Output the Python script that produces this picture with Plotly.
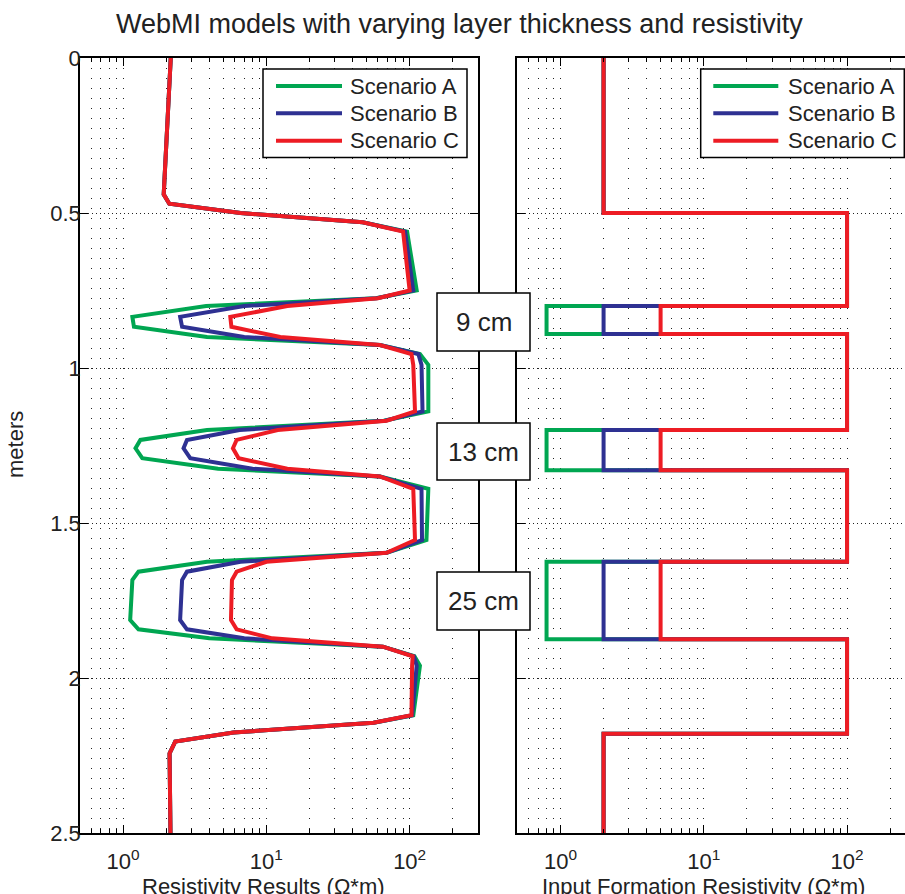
import math
import plotly.graph_objects as go

# ---------------- data ----------------
scenarios = ["Scenario A", "Scenario B", "Scenario C"]
colors = ["rgb(0,166,81)", "rgb(46,49,146)", "rgb(237,28,36)"]

# simulated responses (left panel)
depth_sim = [0.00, 0.44, 0.47, 0.50, 0.53, 0.56, 0.75, 0.775, 0.80, 0.835, 0.867, 0.90,
             0.926, 0.955, 0.99, 1.14, 1.17, 1.20, 1.232, 1.259, 1.291, 1.325, 1.35, 1.39,
             1.555, 1.596, 1.625, 1.657, 1.684, 1.813, 1.843, 1.872, 1.899, 1.93, 1.96,
             2.12, 2.144, 2.176, 2.205, 2.243, 2.50]
res_A = [2.15, 1.92, 2.1, 6.6, 47, 96, 112, 58, 3.8, 1.16, 1.19, 3.85, 62, 118, 135, 135,
         66, 3.85, 1.32, 1.22, 1.36, 4.6, 62, 135, 131, 69, 3.85, 1.28, 1.16, 1.12, 1.28,
         4.0, 65, 108, 118, 106, 56, 5.9, 2.31, 2.11, 2.14]
res_B = [2.15, 1.92, 2.1, 6.6, 47, 93, 106, 59, 7, 2.5, 2.58, 7, 62, 115, 121, 123,
         67, 6.5, 2.79, 2.64, 2.94, 8, 62, 121, 122, 69, 6.6, 2.79, 2.58, 2.5, 2.79,
         7, 65, 107, 112, 104, 56, 5.9, 2.31, 2.11, 2.14]
res_C = [2.15, 1.92, 2.1, 6.6, 47, 90, 100, 60, 14, 5.6, 5.7, 12.5, 62, 103, 106, 109,
         69, 12, 6.2, 5.84, 6.4, 14, 62, 106, 109, 69, 10, 6.2, 5.75, 5.66, 6.2,
         11, 65, 105, 104, 103, 56, 5.9, 2.31, 2.11, 2.14]

# input formation model (right panel): layer tops + bottom of model
layer_tops = [0.0, 0.5, 0.8, 0.89, 1.2, 1.33, 1.625, 1.875, 2.18, 2.5]
model_A = [2, 100, 0.8, 100, 0.8, 100, 0.8, 100, 2, 2]
model_B = [2, 100, 2, 100, 2, 100, 2, 100, 2, 2]
model_C = [2, 100, 5, 100, 5, 100, 5, 100, 2, 2]

layer_labels = ["9 cm", "13 cm", "25 cm"]

y_ticks = [0, 0.5, 1, 1.5, 2, 2.5]
y_ticktext = ["0", "0.5", "1", "1.5", "2", "2.5"]
x_major = [1, 10, 100]
x_major_text = ["10<sup>0</sup>", "10<sup>1</sup>", "10<sup>2</sup>"]
x_minor = [0.5, 0.6, 0.7, 0.8, 0.9, 2, 3, 4, 5, 6, 7, 8, 9,
           20, 30, 40, 50, 60, 70, 80, 90, 200, 300]

# ---------------- layout helpers ----------------
W, H = 905, 894
TOP, BOT = 58, 833           # plot area in page pixels
ML, MR = 0, 0
MT, MB = TOP, H - BOT
PW, PH = W - ML - MR, H - MT - MB
px = lambda x: (x - ML) / PW          # page px -> paper x
py = lambda y: (H - MB - y) / PH      # page px -> paper y
FONT = "Liberation Sans, Arial, Helvetica, sans-serif"

fig = go.Figure()

for name, col, vals in zip(scenarios, colors, [res_A, res_B, res_C]):
    fig.add_trace(go.Scatter(x=vals, y=depth_sim, mode="lines", name=name,
                             line=dict(color=col, width=4), showlegend=False,
                             xaxis="x", yaxis="y"))
for name, col, vals in zip(scenarios, colors, [model_A, model_B, model_C]):
    fig.add_trace(go.Scatter(x=vals, y=layer_tops, mode="lines", name=name,
                             line=dict(color=col, width=4, shape="vh"), showlegend=False,
                             xaxis="x2", yaxis="y2"))

def xaxis(domain, rng):
    return dict(type="log", domain=domain, range=rng, tickmode="array",
                tickvals=x_major, ticktext=x_major_text, ticks="inside", ticklen=8,
                tickwidth=1, tickcolor="black", showline=True, linecolor="black",
                linewidth=1.5, mirror="ticks", showgrid=True, gridcolor="#222",
                gridwidth=1, griddash="1px,9px", zeroline=False, ticklabelstandoff=8,
                tickfont=dict(size=22, color="#222", family=FONT),
                minor=dict(tickmode="array", tickvals=x_minor, ticks="inside", ticklen=4,
                           tickcolor="black", tickwidth=1, showgrid=True,
                           gridcolor="#222", gridwidth=1, griddash="1px,9px"))

def yaxis(show_labels, mirror, anchor):
    return dict(range=[2.5, 0], domain=[0, 1], tickmode="array", tickvals=y_ticks,
                ticktext=y_ticktext, showticklabels=show_labels, ticks="inside",
                ticklen=8, tickcolor="black", showline=True, linecolor="black",
                linewidth=1.5, mirror=mirror, showgrid=True, gridcolor="#222",
                gridwidth=1, griddash="1px,3px", zeroline=False, anchor=anchor,
                ticklabelstandoff=-7,
                tickfont=dict(size=22, color="#222", family=FONT))

left_rng = [math.log10(0.5), math.log10(300)]
right_rng = [math.log10(0.5), math.log10(0.5) + (905 - 517.3) / 143.3]

fig.update_layout(
    width=W, height=H, margin=dict(l=ML, r=MR, t=MT, b=MB),
    paper_bgcolor="white", plot_bgcolor="white", showlegend=False,
    font=dict(family=FONT, color="#222"),
    xaxis=xaxis([px(80), px(478)], left_rng),
    xaxis2={**xaxis([px(517.3), 1.0], right_rng), "anchor": "y2"},
    yaxis=yaxis(True, "ticks", "x"),
    yaxis2=yaxis(False, False, "x2"),
)

shapes = []
annotations = []

# title and axis titles
annotations.append(dict(text="WebMI models with varying layer thickness and resistivity",
                        x=px(459), y=py(6.5), xref="paper", yref="paper", xanchor="center",
                        yanchor="top", showarrow=False, font=dict(size=27, family=FONT)))
annotations.append(dict(text="Resistivity Results (Ω*m)", x=px(263.5), y=py(872),
                        xref="paper", yref="paper", xanchor="center", yanchor="top",
                        showarrow=False, font=dict(size=22, family=FONT)))
annotations.append(dict(text="Input Formation Resistivity (Ω*m)", x=px(703), y=py(872),
                        xref="paper", yref="paper", xanchor="center", yanchor="top",
                        showarrow=False, font=dict(size=22, family=FONT)))
annotations.append(dict(text="meters", x=px(15), y=py(445), xref="paper", yref="paper",
                        xanchor="center", yanchor="middle", textangle=-90,
                        showarrow=False, font=dict(size=22, family=FONT)))

# legends (drawn as boxes)
for (bx0, bx1, lx0, lx1, tx) in [(263, 467, 276, 342, 348), (700.7, 904.3, 713.3, 778.3, 786)]:
    shapes.append(dict(type="rect", xref="paper", yref="paper", x0=px(bx0), x1=px(bx1),
                       y0=py(69), y1=py(157.5), line=dict(color="black", width=1.5),
                       fillcolor="white", layer="above"))
    for name, col, yy in zip(scenarios, colors, [86, 113.3, 140.7]):
        shapes.append(dict(type="line", xref="paper", yref="paper", x0=px(lx0), x1=px(lx1),
                           y0=py(yy), y1=py(yy), line=dict(color=col, width=4),
                           layer="above"))
        annotations.append(dict(text=name, x=px(tx), y=py(yy), xref="paper", yref="paper",
                                xanchor="left", yanchor="middle", showarrow=False,
                                font=dict(size=22, family=FONT)))

# layer thickness boxes
for lab, (y0, y1) in zip(layer_labels, [(293, 351), (423, 480), (572, 630)]):
    shapes.append(dict(type="rect", xref="paper", yref="paper", x0=px(437), x1=px(530),
                       y0=py(y1), y1=py(y0), line=dict(color="black", width=1.5),
                       fillcolor="white", layer="above"))
    annotations.append(dict(text=lab, x=px(483.5), y=py((y0 + y1) / 2), xref="paper",
                            yref="paper", xanchor="center", yanchor="middle",
                            showarrow=False, font=dict(size=26, family=FONT)))

fig.update_layout(shapes=shapes, annotations=annotations)
fig.write_html("out.html", config={"displayModeBar": False},
               post_script="document.body.style.margin='0';document.body.style.overflow='hidden';")
